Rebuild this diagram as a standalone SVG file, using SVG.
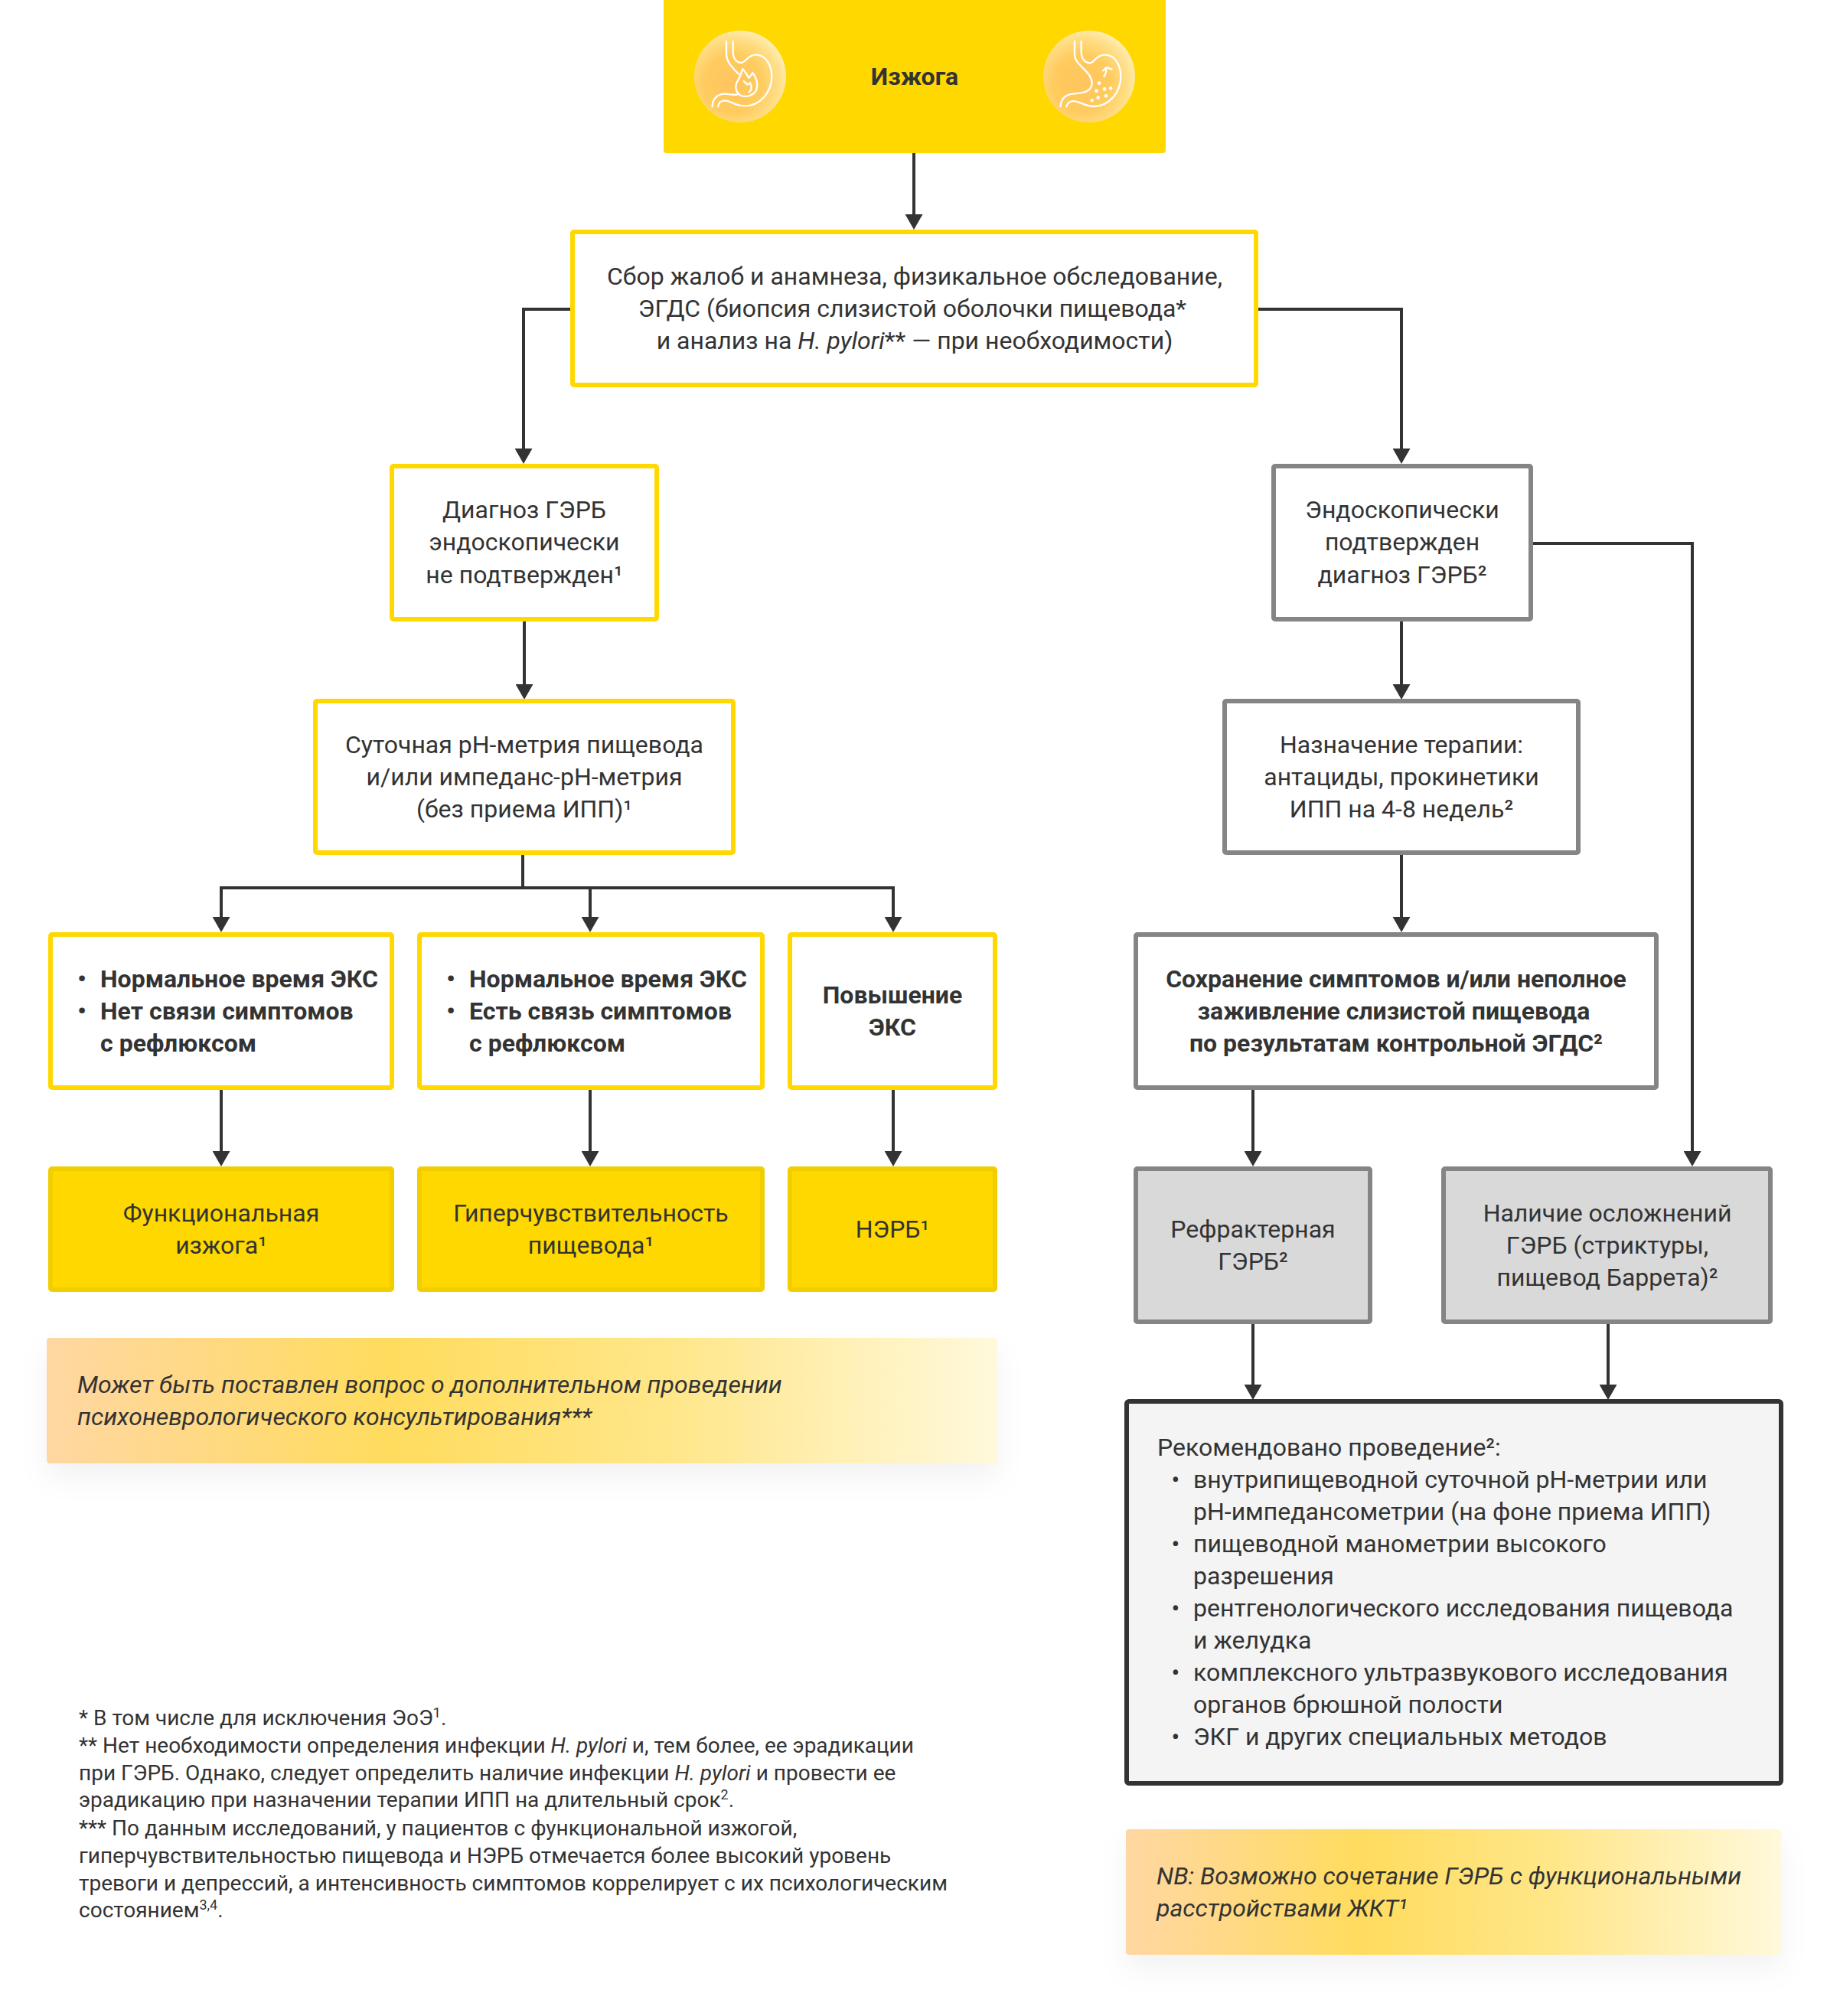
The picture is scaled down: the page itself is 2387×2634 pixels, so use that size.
<svg xmlns="http://www.w3.org/2000/svg" width="2387" height="2634" viewBox="0 0 2387 2634">
<style>
text{font-family:Roboto,"Liberation Sans",sans-serif;font-size:32px;fill:#333}
.c{text-anchor:middle}
.b{font-weight:700}
.i{font-style:italic}
.f{font-size:28px}
.y{fill:#fff;stroke:#FFD800;stroke-width:6}
.g{fill:#fff;stroke:#858585;stroke-width:6}
.yf{fill:#FFD800;stroke:#F2CD00;stroke-width:6}
.gf{fill:#D9D9D9;stroke:#858585;stroke-width:6}
.conn path{fill:none;stroke:#333;stroke-width:4;marker-end:url(#a)}
.conn path.n{marker-end:none}
.ic path{fill:none;stroke:#fff;stroke-width:7;stroke-linecap:round;stroke-linejoin:round}
.ic circle.d{fill:#fff}
</style>
<defs>
<marker id="a" markerUnits="userSpaceOnUse" markerWidth="20" markerHeight="23" refX="0" refY="11.5" orient="auto"><path d="M0,0L20,11.5L0,23Z" fill="#333"/></marker>
<linearGradient id="gr"><stop offset="0" stop-color="#FFD7A3"/><stop offset=".36" stop-color="#FFDC5E"/><stop offset=".65" stop-color="#FFE688"/><stop offset="1" stop-color="#FFF9DC"/></linearGradient>
<radialGradient id="orb" cx=".42" cy=".58" r=".62"><stop offset="0" stop-color="#FFC45F"/><stop offset=".5" stop-color="#FFCB5E"/><stop offset=".8" stop-color="#FFDE86"/><stop offset="1" stop-color="#FFEEB4"/></radialGradient>
<filter id="sh" x="-5%" y="-30%" width="110%" height="170%"><feDropShadow dx="0" dy="18" stdDeviation="18" flood-color="#000" flood-opacity=".05"/></filter>
</defs>

<g id="conns" class="conn">
<path d="M1194,200V280"/>
<path d="M746,404H684V586"/>
<path d="M1644,404H1831V586"/>
<path d="M685,812V894"/>
<path d="M1831,812V894"/>
<path class="n" d="M683,1117V1160"/>
<path d="M771,1160H289V1198"/>
<path d="M683,1160H771V1198"/>
<path d="M771,1160H1167V1198"/>
<path d="M1831,1117V1198"/>
<path d="M289,1424V1504"/>
<path d="M771,1424V1504"/>
<path d="M1167,1424V1504"/>
<path d="M1637,1424V1504"/>
<path d="M2003,710H2211V1504"/>
<path d="M1637,1730V1809"/>
<path d="M2101,1730V1809"/>
</g>

<g id="n-top">
<rect x="867" y="-6" width="656" height="206" rx="4" fill="#FFD800"/>
<g class="ic" transform="translate(900,30) scale(.3333)">
<circle cx="201" cy="210" r="180" fill="url(#orb)"/>
<path d="M147,72V120C147,150 165,170 195,200"/>
<path d="M173,72V115C173,140 190,160 210,155C225,150 230,128 260,125C300,122 325,165 325,210C325,270 280,325 220,325C170,325 165,300 135,305C125,307 115,315 115,328"/>
<path d="M92,328C92,295 115,278 140,278C160,278 175,285 190,280"/>
<path d="M210,180C225,195 230,205 235,215C240,210 245,205 250,195C265,215 272,240 265,262C255,285 225,292 205,285C185,275 178,250 190,230C192,225 197,220 200,210C205,200 207,190 210,180Z"/>
<path d="M215,228L230,242L240,235C250,250 245,265 235,272"/>
</g>
<g class="ic" transform="translate(1355,30) scale(.3333)">
<circle cx="204" cy="210" r="180" fill="url(#orb)"/>
<path d="M147,72V125C147,165 215,190 215,235C215,265 190,275 145,277C115,280 92,295 92,328"/>
<path d="M173,72V115C173,140 190,160 210,157C225,152 232,128 262,125C305,122 328,165 328,210C328,275 280,325 225,327C175,327 165,300 135,307C125,310 117,318 115,328"/>
<path d="M262,210C270,200 272,190 270,176M258,187L272,174L293,182"/>
<circle class="d" cx="243" cy="236" r="7"/><circle class="d" cx="233" cy="266" r="7"/><circle class="d" cx="264" cy="259" r="7"/><circle class="d" cx="288" cy="256" r="7"/><circle class="d" cx="270" cy="286" r="7"/><circle class="d" cx="239" cy="293" r="7"/><circle class="d" cx="215" cy="303" r="7"/>
</g>
<text class="c b" x="1195" y="111">Изжога</text>
</g>

<g id="n-anamnez">
<rect class="y" x="748" y="303" width="893" height="200" rx="2"/>
<text class="c" x="1195" y="372">Сбор жалоб и анамнеза, физикальное обследование,</text>
<text class="c" x="1192" y="414">ЭГДС (биопсия слизистой оболочки пищевода*</text>
<text class="c" x="1195" y="456">и анализ на <tspan class="i">H. pylori</tspan>** — при необходимости)</text>
</g>

<g id="n-diag">
<rect class="y" x="512" y="609" width="346" height="200" rx="2"/>
<text class="c" x="685" y="677">Диагноз ГЭРБ</text>
<text class="c" x="685" y="719">эндоскопически</text>
<text class="c" x="685" y="762">не подтвержден¹</text>
</g>

<g id="n-ph">
<rect class="y" x="412" y="916" width="546" height="198" rx="2"/>
<text class="c" x="685" y="984">Суточная рН-метрия пищевода</text>
<text class="c" x="685" y="1026">и/или импеданс-рН-метрия</text>
<text class="c" x="685" y="1068">(без приема ИПП)¹</text>
</g>

<g id="n-endo">
<rect class="g" x="1664" y="609" width="336" height="200" rx="2"/>
<text class="c" x="1832" y="677">Эндоскопически</text>
<text class="c" x="1832" y="719">подтвержден</text>
<text class="c" x="1832" y="762">диагноз ГЭРБ²</text>
</g>

<g id="n-ther">
<rect class="g" x="1600" y="916" width="462" height="198" rx="2"/>
<text class="c" x="1831" y="984">Назначение терапии:</text>
<text class="c" x="1831" y="1026">антациды, прокинетики</text>
<text class="c" x="1831" y="1068">ИПП на 4-8 недель²</text>
</g>

<g id="n-eks1">
<rect class="y" x="66" y="1221" width="446" height="200" rx="2"/>
<text class="c b" x="107" y="1290">•</text>
<text class="b" x="131" y="1290">Нормальное время ЭКС</text>
<text class="c b" x="107" y="1332">•</text>
<text class="b" x="131" y="1332">Нет связи симптомов</text>
<text class="b" x="131" y="1374">с рефлюксом</text>
</g>

<g id="n-eks2">
<rect class="y" x="548" y="1221" width="448" height="200" rx="2"/>
<text class="c b" x="589" y="1290">•</text>
<text class="b" x="613" y="1290">Нормальное время ЭКС</text>
<text class="c b" x="589" y="1332">•</text>
<text class="b" x="613" y="1332">Есть связь симптомов</text>
<text class="b" x="613" y="1374">с рефлюксом</text>
</g>

<g id="n-eks3">
<rect class="y" x="1032" y="1221" width="268" height="200" rx="2"/>
<text class="c b" x="1166" y="1311">Повышение</text>
<text class="c b" x="1166" y="1353">ЭКС</text>
</g>

<g id="n-sohr">
<rect class="g" x="1484" y="1221" width="680" height="200" rx="2"/>
<text class="c b" x="1824" y="1290">Сохранение симптомов и/или неполное</text>
<text class="c b" x="1821" y="1332">заживление слизистой пищевода</text>
<text class="c b" x="1824" y="1374">по результатам контрольной ЭГДС²</text>
</g>

<g id="n-func">
<rect class="yf" x="66" y="1527" width="446" height="158" rx="2"/>
<text class="c" x="289" y="1596">Функциональная</text>
<text class="c" x="289" y="1638">изжога¹</text>
</g>

<g id="n-hyper">
<rect class="yf" x="548" y="1527" width="448" height="158" rx="2"/>
<text class="c" x="772" y="1596">Гиперчувствительность</text>
<text class="c" x="772" y="1638">пищевода¹</text>
</g>

<g id="n-nerb">
<rect class="yf" x="1032" y="1527" width="268" height="158" rx="2"/>
<text class="c" x="1166" y="1617">НЭРБ¹</text>
</g>

<g id="n-refr">
<rect class="gf" x="1484" y="1527" width="306" height="200" rx="2"/>
<text class="c" x="1637" y="1617">Рефрактерная</text>
<text class="c" x="1637" y="1659">ГЭРБ²</text>
</g>

<g id="n-compl">
<rect class="gf" x="1886" y="1527" width="427" height="200" rx="2"/>
<text class="c" x="2100" y="1596">Наличие осложнений</text>
<text class="c" x="2100" y="1638">ГЭРБ (стриктуры,</text>
<text class="c" x="2100" y="1680">пищевод Баррета)²</text>
</g>

<g id="n-rec">
<rect x="1472" y="1831" width="855" height="499" rx="3" fill="#F4F4F4" stroke="#333" stroke-width="6"/>
<text x="1512" y="1902">Рекомендовано проведение²:</text>
<text class="c" x="1536" y="1944">•</text><text x="1559" y="1944">внутрипищеводной суточной рН-метрии или</text>
<text x="1559" y="1986">рН-импедансометрии (на фоне приема ИПП)</text>
<text class="c" x="1536" y="2028">•</text><text x="1559" y="2028">пищеводной манометрии высокого</text>
<text x="1559" y="2070">разрешения</text>
<text class="c" x="1536" y="2112">•</text><text x="1559" y="2112">рентгенологического исследования пищевода</text>
<text x="1559" y="2154">и желудка</text>
<text class="c" x="1536" y="2196">•</text><text x="1559" y="2196">комплексного ультразвукового исследования</text>
<text x="1559" y="2238">органов брюшной полости</text>
<text class="c" x="1536" y="2280">•</text><text x="1559" y="2280">ЭКГ и других специальных методов</text>
</g>

<g id="n-note1">
<rect x="61" y="1748" width="1242" height="164" rx="4" fill="url(#gr)" filter="url(#sh)"/>
<text class="i" x="101" y="1820">Может быть поставлен вопрос о дополнительном проведении</text>
<text class="i" x="101" y="1862">психоневрологического консультирования***</text>
</g>

<g id="n-note2">
<rect x="1471" y="2390" width="856" height="164" rx="4" fill="url(#gr)" filter="url(#sh)"/>
<text class="i" x="1511" y="2462">NB: Возможно сочетание ГЭРБ с функциональными</text>
<text class="i" x="1511" y="2504">расстройствами ЖКТ¹</text>
</g>

<g id="footnotes">
<text class="f" x="103" y="2254">* В том числе для исключения ЭоЭ<tspan font-size="18" dy="-10">1</tspan><tspan dy="10">.</tspan></text>
<text class="f" x="103" y="2290">** Нет необходимости определения инфекции <tspan class="i">H. pylori</tspan> и, тем более, ее эрадикации</text>
<text class="f" x="103" y="2326">при ГЭРБ. Однако, следует определить наличие инфекции <tspan class="i">H. pylori</tspan> и провести ее</text>
<text class="f" x="103" y="2361">эрадикацию при назначении терапии ИПП на длительный срок<tspan font-size="18" dy="-10">2</tspan><tspan dy="10">.</tspan></text>
<text class="f" x="103" y="2398">*** По данным исследований, у пациентов с функциональной изжогой,</text>
<text class="f" x="103" y="2434">гиперчувствительностью пищевода и НЭРБ отмечается более высокий уровень</text>
<text class="f" x="103" y="2470">тревоги и депрессий, а интенсивность симптомов коррелирует с их психологическим</text>
<text class="f" x="103" y="2505">состоянием<tspan font-size="18" dy="-10">3,4</tspan><tspan dy="10">.</tspan></text>
</g>
</svg>
